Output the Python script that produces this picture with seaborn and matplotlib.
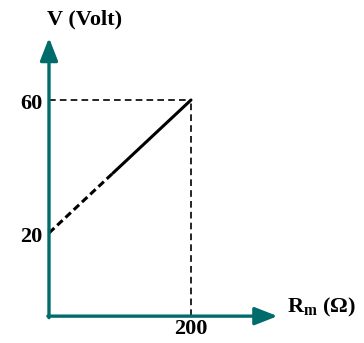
import matplotlib
matplotlib.use("Agg")
import matplotlib.pyplot as plt
import seaborn as sns
import pandas as pd

sns.set_theme(style="white")
plt.rcParams['font.family'] = ['Liberation Serif', 'DejaVu Serif']
plt.rcParams['mathtext.fontset'] = 'custom'
plt.rcParams['mathtext.bf'] = 'Liberation Serif:bold'
plt.rcParams['mathtext.rm'] = 'Liberation Serif:bold'

# Measured line: V rises from the intercept at R=0 to the end point at R=200
resistance = [0, 90, 200]
voltage = [20, 38, 60]
x_ticks = [200]
y_ticks = [20, 60]
x_label = "R$_\\mathbf{m}$ (Ω)"
y_label = "V (Volt)"

teal = "#006B6B"

fig = plt.figure(figsize=(3.64, 3.43), dpi=100)
ax = fig.add_axes([0, 0, 1, 1])
ax.set_xlim(-69, 443.7)
ax.set_ylim(-13.08, 90.08)
ax.axis("off")

df = pd.DataFrame({"R": resistance, "V": voltage})
# extrapolated part (dashed) and measured part (solid)
sns.lineplot(data=df.iloc[:2], x="R", y="V", ax=ax, color="black", lw=2.2,
             linestyle=(0, (2.4, 1.3)))
sns.lineplot(data=df.iloc[1:], x="R", y="V", ax=ax, color="black", lw=2.2)

# guide lines to the end point
ax.plot([0, resistance[-1]], [voltage[-1], voltage[-1]], color="black", lw=1.2,
        linestyle=(0, (4, 2.5)))
ax.plot([resistance[-1], resistance[-1]], [-5, voltage[-1]], color="black", lw=1.2,
        linestyle=(0, (4, 2.5)))

# axes drawn as arrows
x0, y0 = 0, -5
arrow = dict(arrowstyle="-|>,head_length=1.15,head_width=0.45",
             color=teal, lw=2.4, shrinkA=0, shrinkB=0)
ax.annotate("", xy=(322, y0), xytext=(x0 - 1.5, y0), arrowprops=arrow)
ax.annotate("", xy=(x0, 78.7), xytext=(x0, y0 - 0.45), arrowprops=arrow)

fs = 16
for v in y_ticks:
    ax.text(-9, v - 1.3, str(v), ha="right", va="center", fontsize=fs,
            fontweight="bold", color="black")
for r in x_ticks:
    ax.text(r, -8.8, str(r), ha="center", va="center", fontsize=fs,
            fontweight="bold", color="black")

ax.text(50, 84.2, y_label, ha="center", va="center", fontsize=fs,
        fontweight="bold", color="black")
ax.text(335, -2.4, x_label, ha="left", va="center", fontsize=fs,
        fontweight="bold", color="black")

fig.savefig("out.png", dpi=100)
